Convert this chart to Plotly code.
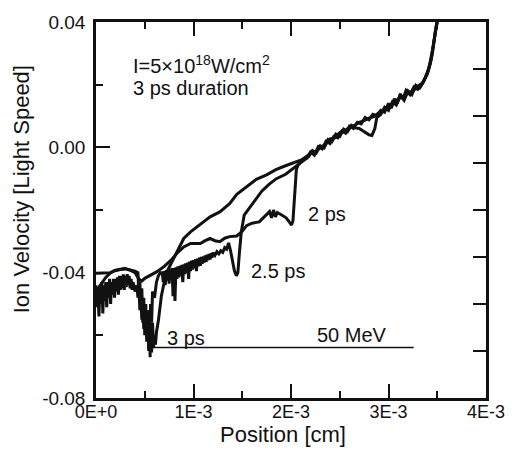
import plotly.graph_objects as go

# ---------------- data (x in units of 1E-3 cm, y in light speed) ----------------
x_3ps = [0.00, 0.10, 0.15, 0.20, 0.27, 0.30, 0.33, 0.37, 0.40, 0.43,
         0.44, 0.45, 0.46, 0.47, 0.48, 0.49, 0.50, 0.51, 0.52, 0.53, 0.54, 0.55, 0.555, 0.56, 0.57, 0.58, 0.59, 0.60, 0.61,
         0.62, 0.64, 0.67, 0.70, 0.74, 0.78, 0.81, 0.87, 0.90, 0.97, 1.00, 1.07, 1.10, 1.17, 1.27, 1.37, 1.444,
         1.55, 1.644, 1.75, 1.845, 1.95, 2.075, 2.115,
         2.20, 2.25, 2.30, 2.35, 2.40, 2.45, 2.50, 2.55, 2.60, 2.65, 2.70, 2.75, 2.80, 2.85, 2.90, 2.95, 3.00,
         3.05, 3.10, 3.15, 3.20, 3.25, 3.30, 3.35, 3.40, 3.43, 3.45, 3.47, 3.49, 3.50]
y_3ps = [-0.0402, -0.0402, -0.0400, -0.0392, -0.0389, -0.0386, -0.0390, -0.0392, -0.0395, -0.0400,
         -0.0470, -0.0430, -0.0520, -0.0450, -0.0560, -0.0480, -0.0600, -0.0500, -0.0620, -0.0520, -0.0650, -0.0560, -0.0670, -0.0580, -0.0655, -0.0560, -0.0640, -0.0600, -0.0630,
         -0.0590, -0.0553, -0.0475, -0.0430, -0.0389, -0.0365, -0.0345, -0.0310, -0.0291, -0.0270, -0.0263, -0.0245, -0.0238, -0.0222, -0.0206, -0.0180, -0.0150,
         -0.0125, -0.0102, -0.0088, -0.0071, -0.0058, -0.0042, -0.0039,
         -0.0020, -0.0015, 0.0000, 0.0008, 0.0027, 0.0030, 0.0047, 0.0052, 0.0064, 0.0070, 0.0080, 0.0085, 0.0093, 0.0098, 0.0110, 0.0118, 0.0133,
         0.0140, 0.0155, 0.0162, 0.0172, 0.0180, 0.0195, 0.0205, 0.0235, 0.0268, 0.0300, 0.0352, 0.0388, 0.0405]

x_25ps = [0.00, 0.01, 0.02, 0.03, 0.04, 0.05, 0.06, 0.07, 0.08, 0.09, 0.10, 0.11, 0.12, 0.13, 0.14, 0.15, 0.16, 0.17, 0.18, 0.19,
          0.20, 0.21, 0.22, 0.23, 0.24, 0.25, 0.26, 0.27, 0.28, 0.29, 0.30, 0.31, 0.32, 0.33, 0.34, 0.35, 0.36, 0.37, 0.38, 0.40,
          0.42, 0.43, 0.44, 0.45, 0.46, 0.47, 0.48, 0.49, 0.50, 0.51, 0.52, 0.53, 0.54, 0.55, 0.56, 0.57, 0.58, 0.60, 0.62, 0.64, 0.66,
          0.68, 0.69, 0.70, 0.71, 0.72, 0.73, 0.74, 0.75, 0.76, 0.77, 0.78, 0.79, 0.80, 0.81, 0.82, 0.83, 0.84, 0.85, 0.86, 0.87,
          0.88, 0.89, 0.90, 0.91, 0.92, 0.93, 0.94, 0.95, 0.96, 0.97, 0.98, 0.99, 1.00, 1.01, 1.02, 1.03, 1.04, 1.05, 1.06, 1.07,
          1.08, 1.09, 1.10, 1.11, 1.12, 1.13, 1.14, 1.15, 1.16, 1.17, 1.18, 1.19, 1.20, 1.22, 1.24, 1.26, 1.28, 1.30, 1.32, 1.34,
          1.36, 1.38, 1.40, 1.42, 1.44, 1.455, 1.47, 1.49, 1.52, 1.58, 1.644, 1.70, 1.774, 1.85, 1.945, 2.03, 2.115,
          2.18, 2.22, 2.26, 2.30, 2.34, 2.38, 2.42, 2.46, 2.50, 2.54, 2.58, 2.62, 2.66, 2.70, 2.75, 2.80, 2.83, 2.86, 2.88,
          2.92, 2.96, 3.00, 3.04, 3.08, 3.12, 3.16, 3.20, 3.24, 3.28, 3.32, 3.36, 3.40, 3.42, 3.44, 3.46, 3.48, 3.50]
y_25ps = [-0.0440, -0.0510, -0.0450, -0.0540, -0.0440, -0.0500, -0.0430, -0.0530, -0.0440, -0.0490, -0.0430, -0.0510, -0.0430, -0.0480, -0.0420, -0.0500, -0.0430, -0.0470, -0.0420, -0.0480,
          -0.0420, -0.0460, -0.0415, -0.0470, -0.0410, -0.0455, -0.0410, -0.0450, -0.0405, -0.0455, -0.0410, -0.0445, -0.0405, -0.0440, -0.0410, -0.0450, -0.0420, -0.0455, -0.0430, -0.0460,
          -0.0440, -0.0480, -0.0450, -0.0520, -0.0470, -0.0550, -0.0490, -0.0580, -0.0500, -0.0590, -0.0520, -0.0600, -0.0540, -0.0590, -0.0500, -0.0560, -0.0460, -0.0480, -0.0430, -0.0410, -0.0400,
          -0.0400, -0.0430, -0.0395, -0.0440, -0.0392, -0.0425, -0.0390, -0.0435, -0.0388, -0.0420, -0.0385, -0.0475, -0.0385, -0.0490, -0.0383, -0.0420, -0.0380, -0.0415, -0.0378, -0.0410,
          -0.0375, -0.0430, -0.0373, -0.0405, -0.0370, -0.0400, -0.0368, -0.0420, -0.0365, -0.0395, -0.0362, -0.0390, -0.0360, -0.0385, -0.0357, -0.0395, -0.0355, -0.0380, -0.0352, -0.0378,
          -0.0350, -0.0372, -0.0348, -0.0368, -0.0345, -0.0365, -0.0343, -0.0360, -0.0340, -0.0358, -0.0338, -0.0352, -0.0336, -0.0345, -0.0333, -0.0340, -0.0330, -0.0335, -0.0320, -0.0325,
          -0.0305, -0.0330, -0.0365, -0.0395, -0.0410, -0.0400, -0.0340, -0.0270, -0.0216, -0.0190, -0.0165, -0.0140, -0.0118, -0.0100, -0.0086, -0.0065, -0.0045,
          -0.0030, -0.0010, -0.0018, 0.0005, -0.0002, 0.0025, 0.0018, 0.0042, 0.0035, 0.0058, 0.0050, 0.0070, 0.0062, 0.0060, 0.0050, 0.0040, 0.0038, 0.0060, 0.0095,
          0.0105, 0.0128, 0.0118, 0.0145, 0.0135, 0.0165, 0.0150, 0.0180, 0.0168, 0.0198, 0.0190, 0.0210, 0.0238, 0.0260, 0.0290, 0.0325, 0.0365, 0.0400]

x_2ps = [0.00, 0.05, 0.10, 0.15, 0.18, 0.25, 0.30, 0.35, 0.40, 0.44, 0.47, 0.50, 0.57, 0.63, 0.70, 0.77, 0.84, 0.90, 0.97,
         1.07, 1.12, 1.17, 1.22, 1.27, 1.32, 1.37, 1.444, 1.50, 1.544, 1.60, 1.674, 1.72, 1.76, 1.78, 1.80, 1.82, 1.84, 1.86,
         1.90, 1.95, 1.975, 1.995, 2.005, 2.02, 2.04, 2.055, 2.075, 2.115,
         2.16, 2.20, 2.24, 2.28, 2.32, 2.36, 2.40, 2.44, 2.48, 2.52, 2.56, 2.60, 2.64, 2.68, 2.72, 2.76, 2.80, 2.84, 2.88,
         2.92, 2.96, 3.00, 3.03, 3.06, 3.09, 3.12, 3.15, 3.18, 3.22, 3.26, 3.30, 3.34, 3.38, 3.41, 3.44, 3.46, 3.48, 3.50]
y_2ps = [-0.0460, -0.0437, -0.0415, -0.0400, -0.0395, -0.0390, -0.0388, -0.0392, -0.0400, -0.0420, -0.0427, -0.0418, -0.0405, -0.0396, -0.0380, -0.0360, -0.0335, -0.0318, -0.0307,
         -0.0307, -0.0298, -0.0291, -0.0298, -0.0301, -0.0290, -0.0285, -0.0283, -0.0268, -0.0250, -0.0242, -0.0238, -0.0225, -0.0212, -0.0205, -0.0225, -0.0200, -0.0222, -0.0208,
         -0.0215, -0.0225, -0.0235, -0.0245, -0.0248, -0.0235, -0.0150, -0.0071, -0.0055, -0.0040,
         -0.0035, -0.0015, -0.0025, 0.0002, -0.0005, 0.0020, 0.0012, 0.0035, 0.0030, 0.0052, 0.0045, 0.0068, 0.0060, 0.0080, 0.0075, 0.0095, 0.0088, 0.0105, 0.0100,
         0.0118, 0.0112, 0.0140, 0.0125, 0.0155, 0.0140, 0.0170, 0.0155, 0.0182, 0.0168, 0.0192, 0.0185, 0.0200, 0.0225, 0.0250, 0.0285, 0.0330, 0.0370, 0.0402]

# 50 MeV reference level
x_50mev = [0.561, 3.258]
y_50mev = [-0.0639, -0.0639]

x_tick_vals = [0, 1, 2, 3, 4]
x_tick_text = ["0E+0", "1E-3", "2E-3", "3E-3", "4E-3"]
y_tick_vals = [-0.08, -0.04, 0.00, 0.04]
y_tick_text = ["-0.08", "-0.04", "0.00", "0.04"]
y_right_ticks = [-0.065, -0.05, -0.035, -0.02, -0.005, 0.01, 0.025]

SCALE = 1e-3
def cm(v):
    return [a * SCALE for a in v]

FONT = "Liberation Sans, Arial, sans-serif"
INK = "#111111"

fig = go.Figure()
for xs, ys in [(x_2ps, y_2ps), (x_25ps, y_25ps), (x_3ps, y_3ps)]:
    fig.add_trace(go.Scatter(x=cm(xs), y=ys, mode="lines",
                             line=dict(color=INK, width=3), showlegend=False,
                             hoverinfo="skip"))
fig.add_trace(go.Scatter(x=cm(x_50mev), y=y_50mev, mode="lines",
                         line=dict(color=INK, width=1.5), showlegend=False, hoverinfo="skip"))
# carrier for the right-hand tick axis
fig.add_trace(go.Scatter(x=[None], y=[None], yaxis="y2", showlegend=False, hoverinfo="skip"))

fig.update_layout(
    width=517, height=449,
    margin=dict(l=96, r=22, t=18, b=51),
    paper_bgcolor="white", plot_bgcolor="white",
    font=dict(family=FONT, color=INK),
    xaxis=dict(range=[0, 4 * SCALE], tickvals=cm(x_tick_vals), ticktext=x_tick_text,
               ticks="inside", ticklen=14, tickwidth=2, tickcolor=INK,
               minor=dict(dtick=0.5 * SCALE, tick0=0, ticks="inside", ticklen=7, tickwidth=2, tickcolor=INK),
               showline=True, linewidth=2.5, linecolor=INK, mirror="ticks",
               showgrid=False, zeroline=False, tickfont=dict(size=18, family=FONT, color=INK),
               ticklabelstandoff=-4),
    yaxis=dict(range=[-0.08, 0.04], tickvals=y_tick_vals, ticktext=y_tick_text,
               ticks="inside", ticklen=14, tickwidth=2, tickcolor=INK,
               minor=dict(dtick=0.02, tick0=0, ticks="inside", ticklen=7, tickwidth=2, tickcolor=INK),
               showline=True, linewidth=2.5, linecolor=INK, mirror=True,
               showgrid=False, zeroline=False, tickfont=dict(size=19, family=FONT, color=INK),
               ticklabelstandoff=4),
    yaxis2=dict(range=[-0.08, 0.04], overlaying="y", side="right", tickvals=y_right_ticks,
                showticklabels=False, ticks="inside", ticklen=13, tickwidth=2, tickcolor=INK,
                showline=False, showgrid=False, zeroline=False),
)

ann_font = dict(family=FONT, size=20, color=INK)
fig.add_annotation(x=0.361 * SCALE, y=0.0264, xanchor="left", yanchor="middle", showarrow=False,
                   text="I=5×10<sup>18</sup>W/cm<sup>2</sup>", font=ann_font)
fig.add_annotation(x=0.361 * SCALE, y=0.0188, xanchor="left", yanchor="middle", showarrow=False,
                   text="3 ps duration", font=ann_font)
fig.add_annotation(x=2.155 * SCALE, y=-0.0212, xanchor="left", yanchor="middle", showarrow=False,
                   text="2 ps", font=ann_font)
fig.add_annotation(x=1.574 * SCALE, y=-0.0396, xanchor="left", yanchor="middle", showarrow=False,
                   text="2.5 ps", font=ann_font)
fig.add_annotation(x=0.712 * SCALE, y=-0.0607, xanchor="left", yanchor="middle", showarrow=False,
                   text="3 ps", font=ann_font)
fig.add_annotation(x=2.246 * SCALE, y=-0.0598, xanchor="left", yanchor="middle", showarrow=False,
                   text="50 MeV", font=ann_font)

title_font = dict(family=FONT, size=22, color=INK)
fig.add_annotation(xref="paper", yref="paper", x=0.48, y=0.0, yshift=-36, xanchor="center", yanchor="middle",
                   showarrow=False, text="Position [cm]", font=title_font)
fig.add_annotation(xref="paper", yref="paper", x=0, xshift=-75, y=0.555, xanchor="center", yanchor="middle",
                   textangle=-90, showarrow=False, text="Ion Velocity [Light Speed]", font=title_font)

fig.write_html("out.html")
